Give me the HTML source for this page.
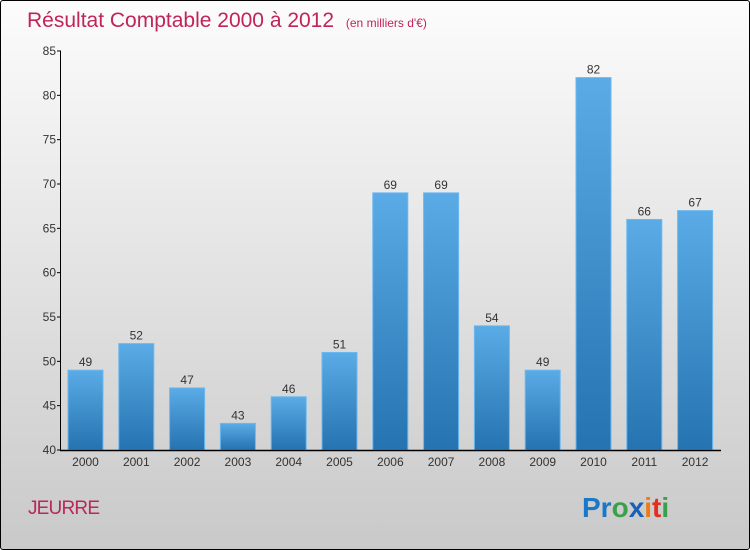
<!DOCTYPE html>
<html><head><meta charset="utf-8"><style>
html,body{margin:0;padding:0}
body{width:750px;height:550px;overflow:hidden;font-family:"Liberation Sans",sans-serif}
#frame{position:absolute;left:0;top:0;width:748px;height:548px;border:1px solid #000;border-radius:3px;background:linear-gradient(#fcfcfc,#c9c9c9)}
</style></head><body>
<div id="frame"></div>
<svg id="chart" width="750" height="550" style="position:absolute;left:0;top:0">
<defs><linearGradient id="bg" x1="0" y1="0" x2="0" y2="1"><stop offset="0" stop-color="#5aabe6"/><stop offset="1" stop-color="#2573b0"/></linearGradient></defs>
<text x="27" y="27" font-size="21" fill="#c0245a">Résultat Comptable 2000 à 2012 <tspan font-size="12" dx="6">(en milliers d'€)</tspan></text>
<text x="28" y="514" font-size="19" fill="#b8285a" textLength="72">JEURRE</text>
<text x="582" y="517" font-size="28" font-weight="bold"><tspan fill="#1a78c8">Pr</tspan><tspan fill="#3aa04a">o</tspan><tspan fill="#1a60b8">x</tspan><tspan fill="#f07a10">i</tspan><tspan fill="#e03020">t</tspan><tspan fill="#3aa04a">i</tspan></text>
<g id="g"></g>
</svg>
<script>
const categories=["2000","2001","2002","2003","2004","2005","2006","2007","2008","2009","2010","2011","2012"];
const values=[49,52,47,43,46,51,69,69,54,49,82,66,67];
const yTicks=[40,45,50,55,60,65,70,75,80,85];
const NS="http://www.w3.org/2000/svg";
const g=document.getElementById("g");
const y=v=>450-(v-40)*(399/45);
const x=i=>68+i*50.8;
const bw=35;
function mk(t,a){const e=document.createElementNS(NS,t);for(const k in a)e.setAttribute(k,a[k]);g.appendChild(e);return e;}
values.forEach((v,i)=>{
 const r=mk("rect",{x:x(i),y:y(v),width:bw,height:450-y(v),fill:"url(#bg)",stroke:"#6cb8ee","stroke-width":1});
 
 
 const t=mk("text",{x:x(i)+bw/2,y:y(v)-4,"font-size":12,fill:"#333","text-anchor":"middle"});
 t.textContent=v;
 
 
 const c=mk("text",{x:x(i)+bw/2,y:466,"font-size":12,fill:"#333","text-anchor":"middle"});
 c.textContent=categories[i];
 
 
});
yTicks.forEach(v=>{
 mk("line",{x1:57,x2:61,y1:y(v),y2:y(v),stroke:"#000"});
 const t=mk("text",{x:56,y:y(v)+4,"font-size":12,fill:"#333","text-anchor":"end"});
 t.textContent=v;
 
 
});
const ya=mk("line",{x1:60.5,x2:60.5,y1:y(85),y2:450,stroke:"#000"});


const xa=mk("line",{x1:60,x2:721,y1:450.5,y2:450.5,stroke:"#000","stroke-width":1.5});


</script>
</body></html>
